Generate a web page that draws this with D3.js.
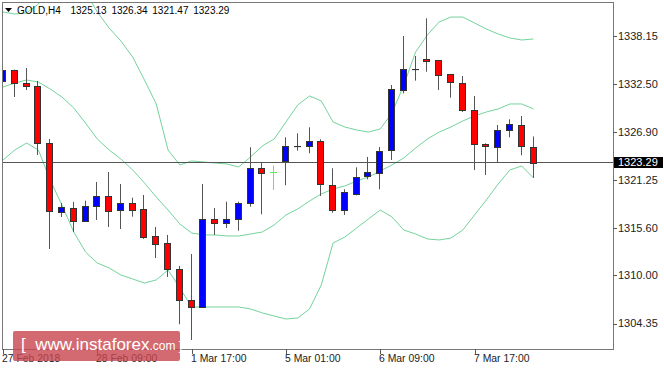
<!DOCTYPE html>
<html>
<head>
<meta charset="utf-8">
<script src="https://cdn.jsdelivr.net/npm/d3@7"></script>
<style>
  body { margin: 0; background: #fff; }
  svg { display: block; font-family: "Liberation Sans", Arial, sans-serif; }
</style>
</head>
<body>
<div id="chart"></div>
<script>
// H4 bars, 27 Feb 01:00 .. 8 Mar 13:00
const opens = [1332.86, 1334.15, 1332.57, 1332.27, 1325.57, 1317.46, 1317.93, 1316.40, 1318.20, 1319.34,
  1317.69, 1318.52, 1317.81, 1314.64, 1313.78, 1310.76, 1307.11, 1306.33, 1316.64, 1316.20,
  1316.60, 1318.48, 1322.60, 1322.13, 1323.42, 1325.22, 1325.22, 1325.77, 1320.67, 1317.69,
  1319.66, 1321.69, 1322.08, 1324.67, 1331.84, 1334.27, 1335.39, 1335.29, 1333.65, 1332.66,
  1329.45, 1325.49, 1325.07, 1327.10, 1327.72, 1325.13];
const highs = [1336.27, 1334.20, 1334.39, 1332.86, 1326.04, 1318.52, 1318.64, 1318.79, 1320.99, 1322.16,
  1320.75, 1319.14, 1319.46, 1315.70, 1314.76, 1311.11, 1312.52, 1320.75, 1317.93, 1318.67,
  1318.67, 1325.07, 1323.30, 1322.90, 1326.24, 1326.71, 1327.42, 1326.01, 1322.60, 1320.13,
  1322.71, 1323.93, 1325.10, 1332.39, 1338.15, 1335.80, 1340.23, 1335.33, 1333.68, 1333.45,
  1331.10, 1325.54, 1327.69, 1328.36, 1328.75, 1326.34];
const lows = [1330.63, 1330.98, 1331.80, 1324.16, 1313.11, 1316.87, 1315.11, 1316.34, 1316.52, 1315.70,
  1315.46, 1316.91, 1314.29, 1312.05, 1309.82, 1304.26, 1302.41, 1306.30, 1314.76, 1315.58,
  1315.26, 1318.08, 1317.19, 1320.05, 1320.60, 1324.67, 1324.36, 1319.34, 1317.38, 1317.11,
  1319.42, 1321.30, 1320.13, 1323.57, 1331.41, 1332.90, 1333.95, 1331.80, 1330.90, 1329.22,
  1322.40, 1321.81, 1323.30, 1326.24, 1324.13, 1321.47];
const closes = [1334.15, 1332.62, 1332.21, 1325.57, 1317.52, 1318.05, 1316.40, 1318.16, 1319.38, 1317.61,
  1318.52, 1317.69, 1314.52, 1313.70, 1310.72, 1307.11, 1306.33, 1316.64, 1316.20, 1316.64,
  1318.52, 1322.60, 1322.01, 1322.13, 1325.22, 1325.25, 1325.77, 1320.67, 1317.69, 1319.78,
  1321.61, 1322.13, 1324.67, 1331.88, 1334.31, 1334.29, 1335.21, 1333.57, 1332.66, 1329.45,
  1325.42, 1325.22, 1327.06, 1327.77, 1325.22, 1323.29];

// Bollinger bands
const bandUpper = [1340.97, 1340.74, 1340.85, 1341.91, 1343.32, 1344.15, 1344.15, 1343.32, 1340.97, 1339.09,
  1337.56, 1335.68, 1332.98, 1330.16, 1324.75, 1322.99, 1323.46, 1323.34, 1323.22, 1323.10,
  1322.75, 1323.93, 1325.22, 1326.04, 1328.04, 1330.04, 1331.10, 1330.51, 1328.04, 1327.45,
  1327.10, 1326.86, 1327.22, 1329.10, 1332.39, 1336.27, 1338.27, 1339.80, 1340.38, 1340.38,
  1339.68, 1338.97, 1338.39, 1337.92, 1337.68, 1337.80];
const bandMiddle = [1332.15, 1332.62, 1332.98, 1332.74, 1331.92, 1330.98, 1329.69, 1327.92, 1326.04, 1324.75,
  1323.69, 1322.40, 1320.87, 1319.22, 1317.69, 1316.05, 1314.99, 1314.76, 1314.76, 1314.64,
  1314.64, 1314.87, 1315.11, 1315.93, 1317.11, 1317.81, 1318.75, 1319.58, 1320.16, 1320.52,
  1321.10, 1321.57, 1322.28, 1322.99, 1323.81, 1324.98, 1326.04, 1326.86, 1327.45, 1328.16,
  1328.75, 1329.22, 1329.57, 1330.16, 1330.16, 1329.57];
const bandLower = [1323.57, 1324.75, 1325.57, 1324.75, 1321.22, 1318.28, 1315.11, 1312.76, 1311.46, 1310.88,
  1310.05, 1309.58, 1309.11, 1309.47, 1310.64, 1308.53, 1306.29, 1306.29, 1306.29, 1306.29,
  1306.29, 1306.06, 1305.59, 1305.23, 1304.88, 1305.00, 1306.06, 1308.88, 1313.82, 1314.52,
  1315.58, 1316.64, 1317.69, 1316.87, 1315.34, 1314.87, 1314.29, 1314.17, 1314.40, 1315.34,
  1317.11, 1318.87, 1320.75, 1322.40, 1322.87, 1321.46];

const priceTicks = [1338.15, 1332.50, 1326.90, 1321.25, 1315.60, 1310.00, 1304.35];
const timeTicks = [0, 8, 16, 24, 32, 40];
const timeLabels = ['27 Feb 2018', '28 Feb 09:00', '1 Mar 17:00', '5 Mar 01:00', '6 Mar 09:00', '7 Mar 17:00'];
const symbol = 'GOLD,H4';

const width = 664, height = 369;
const plot = { left: 2, top: 2, right: 613, bottom: 349 };
const last = closes.length - 1;
const lastPrice = closes[last];

const svg = d3.select('#chart')
  .append('svg')
  .attr('width', width)
  .attr('height', height);

const x = d3.scaleLinear()
  .domain([0, last])
  .range([3, 533.5]);

const y = d3.scaleLinear()
  .domain([1304.35, 1338.15])
  .range([323.5, 36]);

svg.append('defs')
  .append('clipPath')
  .attr('id', 'plotClip')
  .append('rect')
  .attr('x', plot.left)
  .attr('y', plot.top)
  .attr('width', plot.right - plot.left)
  .attr('height', plot.bottom - plot.top);

const chart = svg.append('g').attr('clip-path', 'url(#plotClip)');

// bands
const bandLine = d3.line()
  .x((d, i) => x(i))
  .y(d => y(d));

[bandUpper, bandMiddle, bandLower].forEach(band => {
  chart.append('path')
    .datum(band)
    .attr('fill', 'none')
    .attr('stroke', '#74d39c')
    .attr('stroke-width', 1)
    .attr('d', bandLine);
});

// last price line
chart.append('line')
  .attr('x1', plot.left)
  .attr('x2', plot.right)
  .attr('y1', Math.round(y(lastPrice)) + 0.5)
  .attr('y2', Math.round(y(lastPrice)) + 0.5)
  .attr('stroke', '#555')
  .attr('stroke-width', 1);

// candles
const bars = d3.range(opens.length);
const candle = chart.selectAll('.candle')
  .data(bars)
  .enter()
  .append('g')
  .attr('class', 'candle');

candle.append('line')
  .attr('x1', i => Math.round(x(i)) - 0.5)
  .attr('x2', i => Math.round(x(i)) - 0.5)
  .attr('y1', i => y(highs[i]))
  .attr('y2', i => y(lows[i]))
  .attr('stroke', i => opens[i] === closes[i] ? '#66e866' : '#555')
  .attr('stroke-width', 1);

candle.filter(i => opens[i] !== closes[i])
  .append('rect')
  .attr('x', i => Math.round(x(i)) - 3.5)
  .attr('width', 6)
  .attr('y', i => Math.round(y(Math.max(opens[i], closes[i]))) + 0.5)
  .attr('height', i => Math.max(0.1, Math.round(Math.abs(y(opens[i]) - y(closes[i])))))
  .attr('fill', i => closes[i] > opens[i] ? '#0000ff' : '#ff0000')
  .attr('stroke', '#333')
  .attr('stroke-width', 1);

candle.filter(i => opens[i] === closes[i])
  .append('line')
  .attr('x1', i => Math.round(x(i)) - 4)
  .attr('x2', i => Math.round(x(i)) + 3)
  .attr('y1', i => Math.round(y(opens[i])) + 0.5)
  .attr('y2', i => Math.round(y(opens[i])) + 0.5)
  .attr('stroke', '#66e866')
  .attr('stroke-width', 1);

// frame
svg.append('rect')
  .attr('x', plot.left + 0.5)
  .attr('y', plot.top + 0.5)
  .attr('width', plot.right - plot.left)
  .attr('height', plot.bottom - plot.top)
  .attr('fill', 'none')
  .attr('stroke', '#777');

// price axis
const priceAxis = svg.append('g');
priceAxis.selectAll('line')
  .data(priceTicks)
  .enter()
  .append('line')
  .attr('x1', plot.right)
  .attr('x2', plot.right + 4)
  .attr('y1', d => Math.round(y(d)) + 0.5)
  .attr('y2', d => Math.round(y(d)) + 0.5)
  .attr('stroke', '#555');

priceAxis.selectAll('text')
  .data(priceTicks)
  .enter()
  .append('text')
  .attr('x', 618)
  .attr('y', d => y(d))
  .attr('dy', '0.36em')
  .style('font-size', '11px')
  .attr('fill', '#222')
  .text(d => d.toFixed(2));

// last price tag
svg.append('rect')
  .attr('x', 614)
  .attr('y', Math.round(y(lastPrice)) - 5)
  .attr('width', 49)
  .attr('height', 11)
  .attr('fill', '#000');

svg.append('text')
  .attr('x', 618)
  .attr('y', y(lastPrice))
  .attr('dy', '0.36em')
  .style('font-size', '11px')
  .attr('fill', '#fff')
  .text(lastPrice.toFixed(2));

// time axis
const timeAxis = svg.append('g');
timeAxis.selectAll('line')
  .data(timeTicks)
  .enter()
  .append('line')
  .attr('x1', d => Math.round(x(d)) + 0.5)
  .attr('x2', d => Math.round(x(d)) + 0.5)
  .attr('y1', plot.bottom)
  .attr('y2', plot.bottom + 5)
  .attr('stroke', '#555');

timeAxis.selectAll('text')
  .data(timeTicks)
  .enter()
  .append('text')
  .attr('x', (d, i) => i === 0 ? 2 : Math.round(x(d)) - 1)
  .attr('y', 362)
  .style('font-size', '10.4px')
  .attr('fill', '#222')
  .text((d, i) => timeLabels[i]);

// header
svg.append('path')
  .attr('d', 'M5,8 L12,8 L8.5,12 Z')
  .attr('fill', '#000');

svg.append('text')
  .attr('x', 17)
  .attr('y', 14)
  .style('font-size', '10px')
  .style('word-spacing', '2px')
  .attr('fill', '#000')
  .attr('xml:space', 'preserve')
  .text(`${symbol}  ${opens[last].toFixed(2)} ${highs[last].toFixed(2)} ${lows[last].toFixed(2)} ${closes[last].toFixed(2)}`);

// watermark
const mark = svg.append('g');
mark.append('rect')
  .attr('x', 13)
  .attr('y', 331)
  .attr('width', 167)
  .attr('height', 30)
  .attr('rx', 2)
  .attr('fill', '#c9454e')
  .attr('opacity', 0.8);

const markText = mark.append('text')
  .attr('x', 21)
  .attr('y', 350)
  .attr('fill', '#fff')
  .attr('xml:space', 'preserve');
markText.append('tspan').style('font-size', '17px').text('[  www.instaforex');
markText.append('tspan').style('font-size', '12px').text('.com ]');
</script>
</body>
</html>
